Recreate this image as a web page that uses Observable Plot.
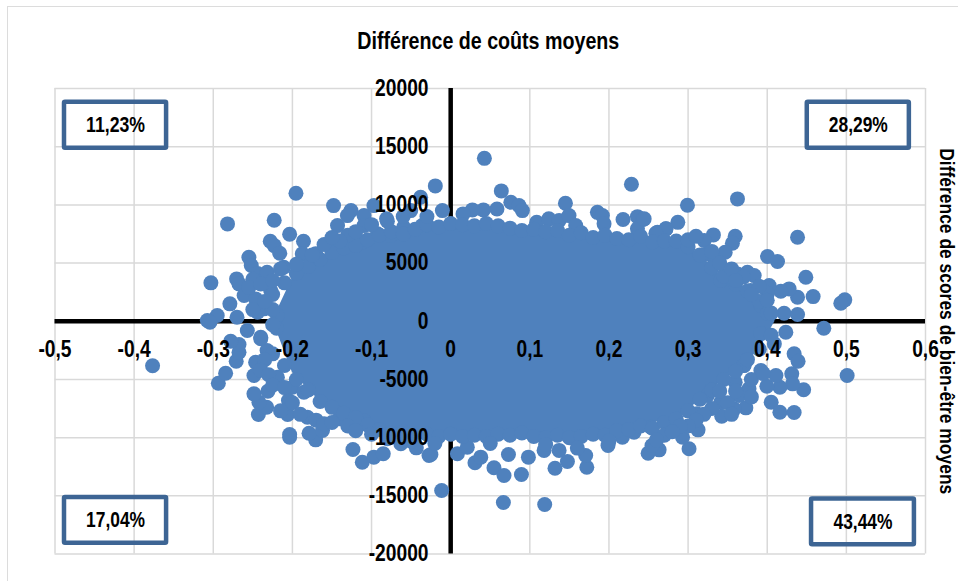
<!DOCTYPE html>
<html lang="fr">
<head>
<meta charset="utf-8">
<script src="https://cdn.jsdelivr.net/npm/d3@7"></script>
<script src="https://cdn.jsdelivr.net/npm/@observablehq/plot@0.6"></script>
<style>
html,body{margin:0;padding:0;background:#fff;overflow:hidden;width:958px;height:581px}
#sheet{position:absolute;left:7px;top:6px;width:2000px;height:2000px;border:1.5px solid #dcdcdc;box-sizing:border-box}
#chart{position:absolute;left:0;top:0}
svg{background:none!important;display:block}
</style>
</head>
<body>
<div id="sheet"></div>
<div id="chart"></div>
<script>
const xTicks = [-0.5,-0.4,-0.3,-0.2,-0.1,0,0.1,0.2,0.3,0.4,0.5,0.6];
const yTicks = [-20000,-15000,-10000,-5000,0,5000,10000,15000,20000];
const titleText = "Différence de coûts moyens";
const yTitleText = "Différence de scores de bien-être moyens";

// Points isolés : quadrant haut-gauche
const nwX = [-0.1955,-0.282,-0.223,-0.148,-0.2035,-0.228,-0.223,-0.216,-0.186,-0.255,-0.252,-0.303,-0.2705,-0.2675,-0.279,-0.261,-0.2465,-0.236,-0.244,-0.232,-0.2275,-0.211,-0.1875,-0.1705,-0.143,-0.1465,-0.126,-0.1305,-0.1095,-0.1095,-0.097,-0.081,-0.122,-0.1115,-0.0505,-0.038,-0.0595,-0.036,-0.0925,-0.076,-0.219,-0.295,-0.3075,-0.27,-0.244,-0.0194,-0.0105];
const nwY = [10995,8365,8680,9940,7470,6870,6500,5840,6870,5500,4785,3300,3640,3210,1495,2210,1920,1065,4095,4210,2640,4640,5790,5790,8220,6990,9510,9080,9080,8220,9940,8800,7080,6790,9510,10650,8075,8220,7510,7360,490,490,60,345,775,11630,9510];

// Quadrant haut-droit
const neX = [0.0426,0.064,0.2284,0.145,0.076,0.0863,0.0906,0.0585,0.0413,0.0274,0.0156,0.1087,0.124,0.137,0.1495,0.158,0.1854,0.1917,0.1938,0.2178,0.236,0.243,0.236,0.2613,0.272,0.3624,0.2992,0.287,0.272,0.2593,0.2445,0.332,0.3204,0.3595,0.356,0.3468,0.4383,0.4004,0.413,0.4488,0.458,0.4383,0.4277,0.4172,0.4024,0.4004,0.498,0.493,0.4213,0.4383,0.375,0.3835,0.3624,0.3413,0.379,0.3245,0.3337,0.392,0.4004];
const neY = [14000,11200,11770,10140,10220,9940,9510,9650,9570,9570,9225,8500,8800,8650,9080,8220,9360,9080,8370,8740,8990,8740,7940,7650,7940,10515,9965,8500,7940,7560,8800,7420,6930,7300,6700,5930,7215,5560,5130,3780,2120,2060,2780,2580,3070,2400,1840,1545,690,575,4210,3925,4070,3500,2640,5790,5210,1350,690];

// Quadrant bas-gauche
const swX = [-0.3767,-0.1235,-0.1117,-0.0971,-0.0852,-0.063,-0.0434,-0.0274,-0.025,-0.0114,-0.2035,-0.2035,-0.1706,-0.179,-0.162,-0.181,-0.141,-0.206,-0.205,-0.243,-0.2325,-0.2423,-0.2486,-0.231,-0.2486,-0.219,-0.2465,-0.2936,-0.2844,-0.271,-0.2675,-0.2675,-0.278,-0.257,-0.3042,-0.2,-0.1855,-0.11,-0.24,-0.232];
const swY = [-3830,-11020,-12110,-11680,-11390,-10530,-10880,-11540,-11450,-14540,-9730,-9965,-10190,-9620,-9390,-8250,-8385,-8015,-6810,-8015,-7390,-6960,-6240,-6010,-4665,-4810,-3520,-5325,-4465,-3435,-2660,-2000,-1720,-800,-90,-5670,-6100,-8530,-1375,-2515];

// Quadrant bas-droit
const seX = [0.4715,0.501,0.434,0.439,0.431,0.446,0.432,0.416,0.3995,0.405,0.416,0.434,0.411,0.392,0.3707,0.373,0.3425,0.358,0.3645,0.3413,0.377,0.3595,0.3245,0.3126,0.3012,0.311,0.293,0.2634,0.2495,0.2544,0.253,0.2823,0.409,0.4235,0.392,0.3707,0.0085,0.0307,0.0547,0.0674,0.073,0.0894,0.0982,0.0666,0.1188,0.1318,0.1475,0.172,0.1706,0.1988,0.2317,0.217,0.118,0.137,0.038,0.021];
const seY = [-600,-4665,-2800,-3435,-4520,-5890,-5380,-5670,-5580,-6960,-7820,-7840,-4665,-4235,-3800,-7440,-8160,-7525,-6380,-6960,-5810,-5240,-6380,-9330,-10960,-7955,-9965,-11050,-11340,-10680,-9105,-9240,-1940,-945,-1060,-3800,-11390,-12160,-12590,-13250,-11450,-13170,-11680,-15570,-15750,-12630,-12050,-12540,-11540,-10680,-9530,-9965,-11100,-11100,-11680,-10820];

// Bord de la masse dense : points du haut
const topRimX = [-0.225,-0.21,-0.195,-0.18,-0.165,-0.15,-0.135,-0.12,-0.105,-0.09,-0.075,-0.06,-0.045,-0.03,-0.015,0,0.015,0.03,0.045,0.06,0.075,0.09,0.105,0.12,0.135,0.15,0.165,0.18,0.195,0.21,0.225,0.24,0.255,0.27,0.285,0.3,0.315,0.33,0.345,0.36,0.375,0.39,0.405,-0.225];
const topRimY = [2300,3300,4100,4700,5300,5900,6300,6500,7000,7400,7700,7500,7900,8300,8100,8400,8300,8200,8400,8200,8000,7800,7900,7700,7800,7400,7600,7200,7400,7100,7000,7300,6800,6900,6900,6400,5700,4600,3900,3200,2600,1700,700,1000];

// Bord de la masse dense : points du bas
const bottomRimX = [-0.24,-0.225,-0.21,-0.195,-0.18,-0.165,-0.15,-0.135,-0.12,-0.105,-0.09,-0.075,-0.06,-0.045,-0.03,-0.015,0,0.015,0.03,0.045,0.06,0.075,0.09,0.105,0.12,0.135,0.15,0.165,0.18,0.195,0.21,0.225,0.24,0.255,0.27,0.285,0.3,0.315,0.33,0.345,0.36,0.375,0.39,0.405,-0.22];
const bottomRimY = [-1500,-2800,-3800,-5000,-5900,-6900,-7400,-7900,-8300,-8900,-9300,-9600,-9500,-9800,-9700,-9900,-9700,-9900,-9800,-9900,-9700,-9800,-9600,-9900,-10000,-9800,-10000,-9900,-9700,-9800,-9400,-9300,-9000,-9200,-8700,-8400,-7700,-6700,-5900,-5000,-4300,-3300,-2400,-1200,-600];

// Points de frange entre le bord et les points isolés
const fringeX = [-0.25,-0.255,-0.24,-0.225,-0.215,-0.25,-0.235,-0.225,-0.235,-0.24,-0.23,-0.225,-0.21,-0.2,-0.215,-0.19,-0.17,-0.16,-0.15,0.35,0.36,0.38,0.395,0.38,0.355,0.34,0.33,0.32,0.31,0.3,0.29,0.27,0.26,0.28,0.3,0.31,0.33,0.34,0.355,0.37,0.36,0.39,0.38,0.4,-0.13,-0.12,-0.14,-0.16,-0.15,-0.175,-0.195,-0.1,-0.08,-0.06,-0.03,0.05,0.12,0.16,0.2,-0.1,-0.08,-0.05,-0.02,-0.13,-0.12];
const fringeY = [3600,2900,3200,3500,4500,1000,1700,-300,-3300,-4200,-4600,-5500,-5700,-7000,-7700,-8000,-8500,-8800,-8700,-7000,-6000,-5000,-4500,-6500,-8000,-6000,-7500,-8000,-8500,-9000,-9000,-9800,-10200,-9500,7000,7300,6000,5000,4500,3800,3500,3000,2300,1800,7400,7700,6900,6600,7200,5700,4900,8300,8600,9000,9000,-10500,-10600,-10900,-10300,-9700,-10100,-10300,-10500,-9000,-9400];

// Masse dense, où les points ne se distinguent plus : enveloppe
const coreX = [-0.22,-0.2,-0.165,-0.126,-0.088,-0.05,0,0.04,0.09,0.14,0.19,0.24,0.29,0.316,0.34,0.365,0.39,0.41];
const coreTop = [800,3700,5300,6400,7400,7700,8300,8300,7800,7700,7300,7200,6800,5700,4000,3000,1700,0];
const coreBottom = [-800,-4400,-6900,-8100,-9300,-9700,-9700,-9800,-9600,-9800,-9700,-9000,-8200,-6700,-5300,-4100,-2400,0];

// Encadrés
const boxLabels = ["11,23%","28,29%","17,04%","43,44%"];
const boxX1 = [-0.488,0.4506,-0.488,0.456];
const boxX2 = [-0.359,0.5796,-0.359,0.586];
const boxY1 = [18812,18812,-15145,-15270];
const boxY2 = [14860,14860,-19070,-19200];

const xs = [...nwX,...neX,...swX,...seX,...topRimX,...bottomRimX,...fringeX];
const ys = [...nwY,...neY,...swY,...seY,...topRimY,...bottomRimY,...fringeY];
const points = xs.map((x,i)=>({x,y:ys[i]}));
const core = coreX.map((x,i)=>({x,top:coreTop[i],bottom:coreBottom[i]}));
const boxes = boxLabels.map((label,i)=>({label,x1:boxX1[i],x2:boxX2[i],y1:boxY1[i],y2:boxY2[i]}));

const blue = "#4f81bd", gray = "#d9d9d9", font = "'Liberation Sans',Arial,sans-serif";
const fr = d => String(d).replace(".",",");

const chart = Plot.plot({
  width: 958, height: 581,
  marginLeft: 54.5, marginRight: 33, marginTop: 88, marginBottom: 27.5,
  style: {fontFamily: font, background: "none", overflow: "visible"},
  x: {domain: [-0.5,0.6], ticks: xTicks, label: null},
  y: {domain: [-20000,20000], ticks: yTicks, label: null},
  marks: [
    Plot.gridX(xTicks, {stroke: gray, strokeOpacity: 1, strokeWidth: 1.5}),
    Plot.gridY(yTicks, {stroke: gray, strokeOpacity: 1, strokeWidth: 1.5}),
    Plot.ruleX([0], {stroke: "#000", strokeWidth: 4.5}),
    Plot.ruleY([0], {stroke: "#000", strokeWidth: 4.5}),
    Plot.areaY(core, {x: "x", y1: "bottom", y2: "top", fill: blue}),
    Plot.dot(points, {x: "x", y: "y", r: 7.5, fill: blue, stroke: "none"}),
    Plot.axisX(xTicks, {anchor: "bottom", tickSize: 0, tickPadding: -213, tickFormat: fr, fontSize: 23, fontWeight: 700, fill: "#000", label: null}),
    Plot.axisY(yTicks, {anchor: "left", tickSize: 0, tickPadding: -373.5, tickFormat: fr, fontSize: 23, fontWeight: 700, fill: "#000", label: null}),
    Plot.rect(boxes, {x1: "x1", x2: "x2", y1: "y1", y2: "y2", fill: "none", stroke: "#3d6594", strokeWidth: 4.5, rx: 1}),
    Plot.text(boxes, {x: d=>(d.x1+d.x2)/2, y: d=>(d.y1+d.y2)/2, text: "label", fontSize: 22, fontWeight: 700, fill: "#000"}),
    Plot.text([titleText], {frameAnchor: "top", dy: -56, dx: -2, text: d=>d, fontSize: 23, fontWeight: 700, fill: "#000"}),
    Plot.text([yTitleText], {frameAnchor: "right", dx: 21.5, dy: 0, rotate: 90, textAnchor: "middle", text: d=>d, fontSize: 20.5, fontWeight: 700, fill: "#000"})
  ]
});
document.getElementById("chart").append(chart);

// La police d'origine est étroite : on resserre le texte réel horizontalement
chart.querySelectorAll("text").forEach(t => {
  const s = t.textContent;
  const len = t.getComputedTextLength();
  const target = s === titleText ? 262 : s === yTitleText ? 346 : boxLabels.includes(s) ? 59 : len * 0.835;
  t.setAttribute("textLength", target);
  t.setAttribute("lengthAdjust", "spacingAndGlyphs");
});
</script>
</body>
</html>
